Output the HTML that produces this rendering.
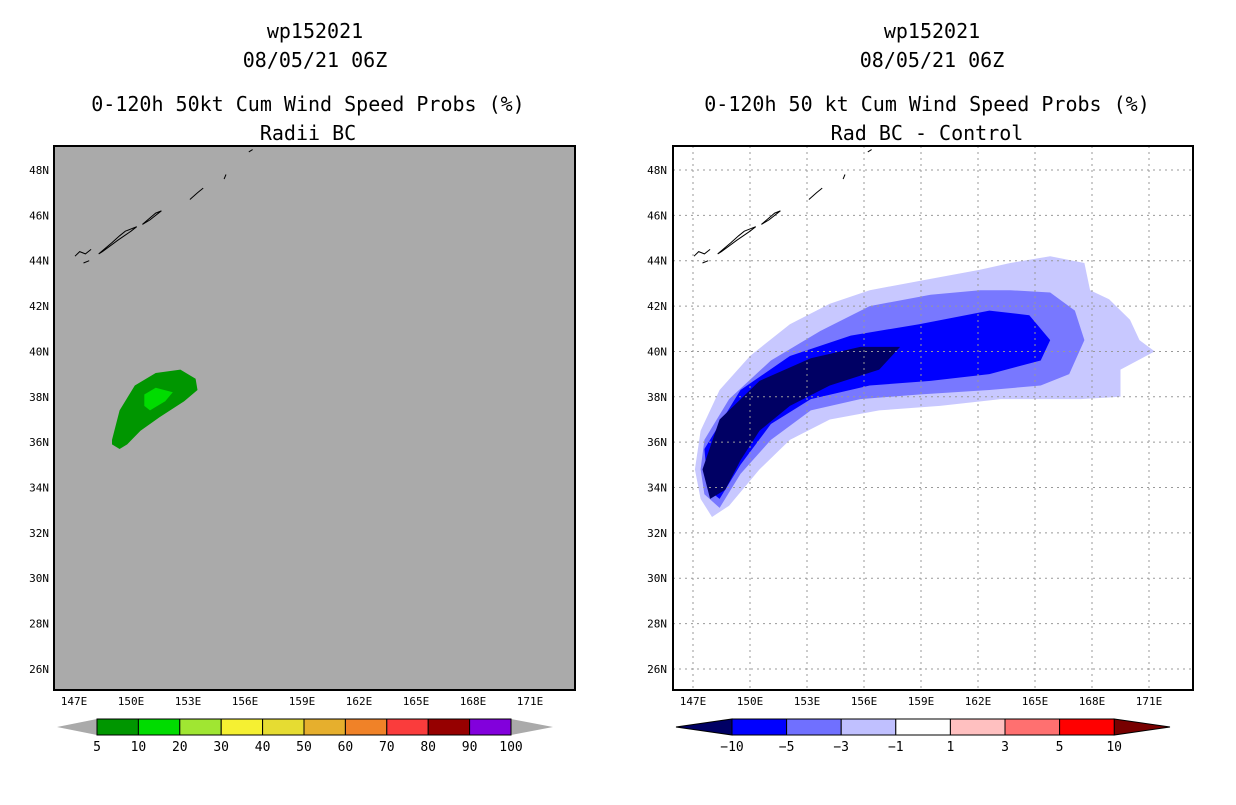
<!DOCTYPE html>
<html><head><meta charset="utf-8"><style>
body{margin:0;background:#fff;}
svg text{font-family:"DejaVu Sans Mono","Liberation Mono",monospace;}
</style></head><body>
<svg id="s" width="1236" height="800" xmlns="http://www.w3.org/2000/svg">
<rect width="1236" height="800" fill="#fff"/>
<g font-size="20" text-anchor="middle" fill="#000">
<text x="315" y="38">wp152021</text>
<text x="315" y="67">08/05/21 06Z</text>
<text x="308" y="111">0-120h 50kt Cum Wind Speed Probs (%)</text>
<text x="308" y="140">Radii BC</text>
<text x="932" y="38">wp152021</text>
<text x="932" y="67">08/05/21 06Z</text>
<text x="927" y="111">0-120h 50 kt Cum Wind Speed Probs (%)</text>
<text x="927" y="140">Rad BC - Control</text>
</g>
<g id="L"></g><g id="R"></g>
</svg>
<script>
const latTicks=[48,46,44,42,40,38,36,34,32,30,28,26];
const lonTicks=[147,150,153,156,159,162,165,168,171];
const leftLevels=['5','10','20','30','40','50','60','70','80','90','100'];
const leftColors=['#009600','#00dc00','#a0e632','#f5f032','#e6dc32','#e6af2d','#f08228','#fa3c3c','#960000','#8200dc'];
const rightLevels=['-10','-5','-3','-1','1','3','5','10'];
const rightColors=['#0000ff','#7070ff','#c0c0ff','#ffffff','#ffc0c0','#ff7070','#ff0000'];
const greenOuter=[[149.0,36.1],[149.4,37.4],[150.2,38.5],[151.3,39.05],[152.6,39.2],[153.4,38.8],[153.5,38.3],[152.8,37.8],[151.5,37.1],[150.5,36.5],[149.8,35.9],[149.4,35.7],[149.0,35.9]];
const greenInner=[[150.7,38.1],[151.3,38.4],[152.2,38.2],[151.8,37.8],[151.0,37.4],[150.7,37.6]];
const diffLight=[[147.4,36.5],[148.4,38.3],[150.0,39.8],[152.1,41.2],[154.2,42.1],[156.3,42.7],[159.5,43.2],[162.1,43.6],[163.7,43.9],[165.8,44.2],[167.6,43.9],[167.9,42.7],[168.9,42.3],[170.0,41.4],[170.5,40.5],[171.3,40.0],[169.5,39.2],[169.5,38.0],[167.4,37.9],[163.2,37.9],[160.0,37.6],[156.8,37.4],[154.2,37.0],[152.1,36.1],[150.5,34.8],[148.9,33.2],[148.0,32.7],[147.4,33.5],[147.1,34.8]];
const diffMed=[[147.6,36.1],[148.9,37.9],[151.1,39.6],[153.7,40.9],[156.3,42.0],[159.5,42.5],[162.1,42.7],[163.7,42.7],[165.8,42.6],[167.1,41.8],[167.6,40.5],[166.8,39.0],[165.3,38.5],[162.6,38.3],[158.9,38.1],[155.8,37.9],[153.2,37.4],[151.1,36.1],[149.5,34.6],[148.4,33.1],[147.6,33.7],[147.4,34.8]];
const diffBlue=[[147.6,35.7],[149.5,38.3],[152.1,39.8],[155.3,40.7],[158.9,41.2],[162.6,41.8],[164.7,41.6],[165.8,40.5],[165.3,39.6],[162.6,39.0],[159.5,38.7],[156.3,38.5],[153.2,37.9],[151.1,36.8],[149.5,35.0],[148.4,33.5],[147.8,33.9]];
const diffNavy=[[147.5,34.8],[148.4,37.0],[150.5,38.7],[153.2,39.7],[155.8,40.2],[157.9,40.2],[156.8,39.2],[154.2,38.5],[152.1,37.6],[150.5,36.5],[149.5,35.2],[148.7,33.9],[147.9,33.5]];
const islands=[[[147.05,44.2],[147.3,44.4],[147.6,44.3],[147.9,44.5]],[[148.3,44.3],[149.0,44.8],[149.4,45.1],[149.7,45.3],[150.3,45.5],[150.0,45.3],[149.3,44.9],[148.5,44.4],[148.3,44.3]],[[150.6,45.6],[151.3,46.1],[151.6,46.2],[151.0,45.8],[150.6,45.6]],[[153.1,46.7],[153.5,47.0],[153.8,47.2]],[[154.9,47.6],[155.0,47.8]],[[156.2,48.8],[156.4,48.9]],[[147.5,43.9],[147.8,44.0]]];
const SVGNS='http://www.w3.org/2000/svg';
function mk(p,t,a){const e=document.createElementNS(SVGNS,t);for(const k in a)e.setAttribute(k,a[k]);p.appendChild(e);return e;}
function panel(g,x0){
  const X=lon=>x0+(lon-147)*19, Y=lat=>170+(48-lat)*22.68;
  return {X,Y,pts:arr=>arr.map(p=>X(p[0]).toFixed(1)+','+Y(p[1]).toFixed(1)).join(' ')};
}
function axes(g,P,x0,left){
  lonTicks.forEach(v=>{const t=mk(g,'text',{x:P.X(v),y:705,'font-size':11,'text-anchor':'middle'});t.textContent=v+'E';
    
    });
  latTicks.forEach(v=>{const t=mk(g,'text',{x:left-3,y:P.Y(v)+4,'font-size':11,'text-anchor':'end'});t.textContent=v+'N';
    
    });
}
function isl(g,P){islands.forEach(a=>{const e=mk(g,'polyline',{points:P.pts(a),fill:'none',stroke:'#000','stroke-width':1});
  
  });}
// LEFT
(function(){
  const g=document.getElementById('L');const P=panel(g,74);
  const bg=mk(g,'rect',{x:54,y:146,width:521,height:544,fill:'#aaaaaa'});
  
  
  const a=mk(g,'polygon',{points:P.pts(greenOuter),fill:leftColors[0]});
  
  
  const b=mk(g,'polygon',{points:P.pts(greenInner),fill:leftColors[1]});
  
  
  isl(g,P);
  const fr=mk(g,'rect',{x:54,y:146,width:521,height:544,fill:'none',stroke:'#000','stroke-width':2});
  
  
  axes(g,P,74,52);
  const bx=97,bw=41.4,by=719,bh=16;
  const t1=mk(g,'polygon',{points:`57,727 ${bx},${by} ${bx},${by+bh}`,fill:'#aaaaaa'});
  
  
  const t2=mk(g,'polygon',{points:`${bx+10*bw},${by} 553,727 ${bx+10*bw},${by+bh}`,fill:'#aaaaaa'});
  
  
  leftColors.forEach((c,i)=>{const r=mk(g,'rect',{x:bx+i*bw,y:by,width:bw,height:bh,fill:c,stroke:'#000','stroke-width':1});
    
    });
  leftLevels.forEach((l,i)=>{const t=mk(g,'text',{x:bx+i*bw,y:751,'font-size':13,'text-anchor':'middle'});t.textContent=l;
    
    });
})();
// RIGHT
(function(){
  const g=document.getElementById('R');const P=panel(g,693);
  const bg=mk(g,'rect',{x:673,y:146,width:520,height:544,fill:'#fff'});
  
  
  [[diffLight,'#c8c8ff','diff-minus1-contour'],[diffMed,'#7878ff','diff-minus3-contour'],[diffBlue,'#0000ff','diff-minus5-contour'],[diffNavy,'#000064','diff-minus10-contour']].forEach(d=>{
    const p=mk(g,'polygon',{points:P.pts(d[0]),fill:d[1]});
    
    });
  lonTicks.forEach(v=>{const l=mk(g,'line',{x1:P.X(v),x2:P.X(v),y1:146,y2:690,stroke:'#999','stroke-dasharray':'2,4'});
    
    });
  latTicks.forEach(v=>{const l=mk(g,'line',{x1:673,x2:1193,y1:P.Y(v),y2:P.Y(v),stroke:'#999','stroke-dasharray':'2,4'});
    
    });
  isl(g,P);
  const fr=mk(g,'rect',{x:673,y:146,width:520,height:544,fill:'none',stroke:'#000','stroke-width':2});
  
  
  axes(g,P,693,670);
  const bx=732,bw=54.6,by=719,bh=16,n=rightColors.length;
  const t1=mk(g,'polygon',{points:`676,727 ${bx},${by} ${bx},${by+bh}`,fill:'#000064',stroke:'#000'});
  
  
  const t2=mk(g,'polygon',{points:`${bx+n*bw},${by} 1170,727 ${bx+n*bw},${by+bh}`,fill:'#780000',stroke:'#000'});
  
  
  rightColors.forEach((c,i)=>{const r=mk(g,'rect',{x:bx+i*bw,y:by,width:bw,height:bh,fill:c,stroke:'#000','stroke-width':1});
    
    });
  rightLevels.forEach((l,i)=>{const t=mk(g,'text',{x:bx+i*bw,y:751,'font-size':13,'text-anchor':'middle'});t.textContent=l.replace('-','\u2212');
    
    });
})();
</script>
</body></html>
